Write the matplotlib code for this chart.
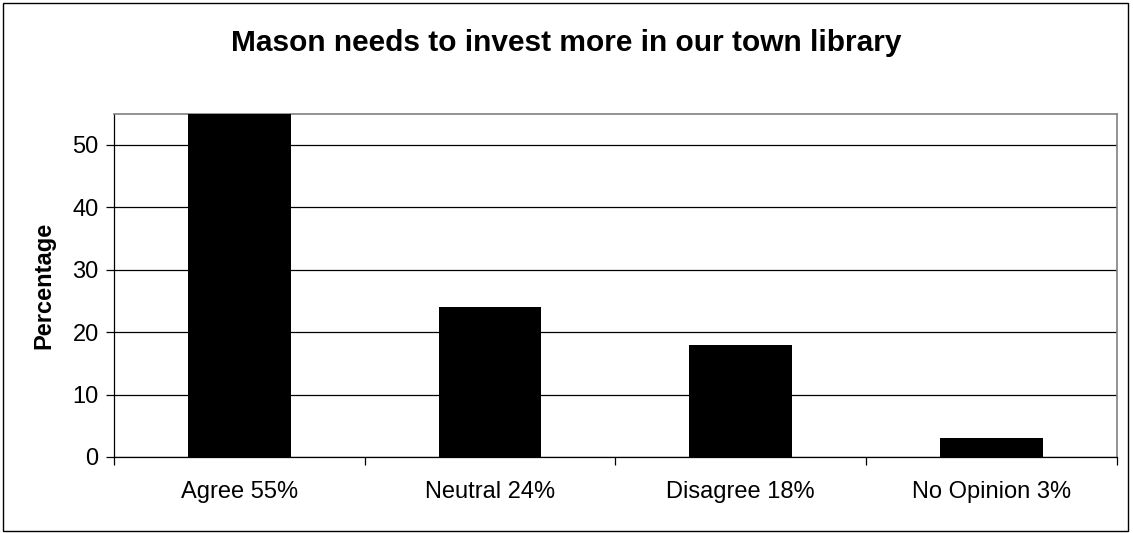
import matplotlib
matplotlib.use("Agg")
import matplotlib.pyplot as plt
from matplotlib.patches import Rectangle

categories = ["Agree 55%", "Neutral 24%", "Disagree 18%", "No Opinion 3%"]
values = [55, 24, 18, 3]
yticks = [0, 10, 20, 30, 40, 50]

plt.rcParams['font.family'] = ['Liberation Sans', 'DejaVu Sans']

fig = plt.figure(figsize=(11.33, 5.33), dpi=100)
ax = fig.add_axes([0.1006, 0.1426, 0.885, 0.6444])

x = list(range(len(categories)))
ax.bar(x, values, width=0.41, color='black', zorder=3)

ax.set_xlim(-0.5, len(categories) - 0.5)
ax.set_ylim(0, 55)
ax.set_yticks(yticks)
ax.yaxis.grid(True, color='black', linewidth=0.9, zorder=0)

# categories labelled at centers, ticks between them
ax.set_xticks(x)
ax.set_xticklabels(categories, fontsize=17)
ax.tick_params(axis='x', length=0, pad=17)
ax.set_xticks([i - 0.5 for i in range(len(categories) + 1)], minor=True)
ax.tick_params(axis='x', which='minor', length=6, width=0.9, color='black')
ax.tick_params(axis='y', labelsize=17, length=6, width=0.9, pad=5)

for side in ['top', 'right']:
    ax.spines[side].set_color('#808080')
    ax.spines[side].set_linewidth(1.2)
for side in ['left', 'bottom']:
    ax.spines[side].set_color('black')
    ax.spines[side].set_linewidth(0.9)

ax.set_ylabel("Percentage", fontsize=17, fontweight='bold', labelpad=12)
fig.text(0.5, 0.919, "Mason needs to invest more in our town library",
         ha='center', va='center', fontsize=21.5, fontweight='bold')

fig.patches.append(Rectangle((0.003, 0.004), 0.993, 0.991, transform=fig.transFigure,
                             fill=False, edgecolor='black', linewidth=1))

fig.savefig("out.png", dpi=100)
